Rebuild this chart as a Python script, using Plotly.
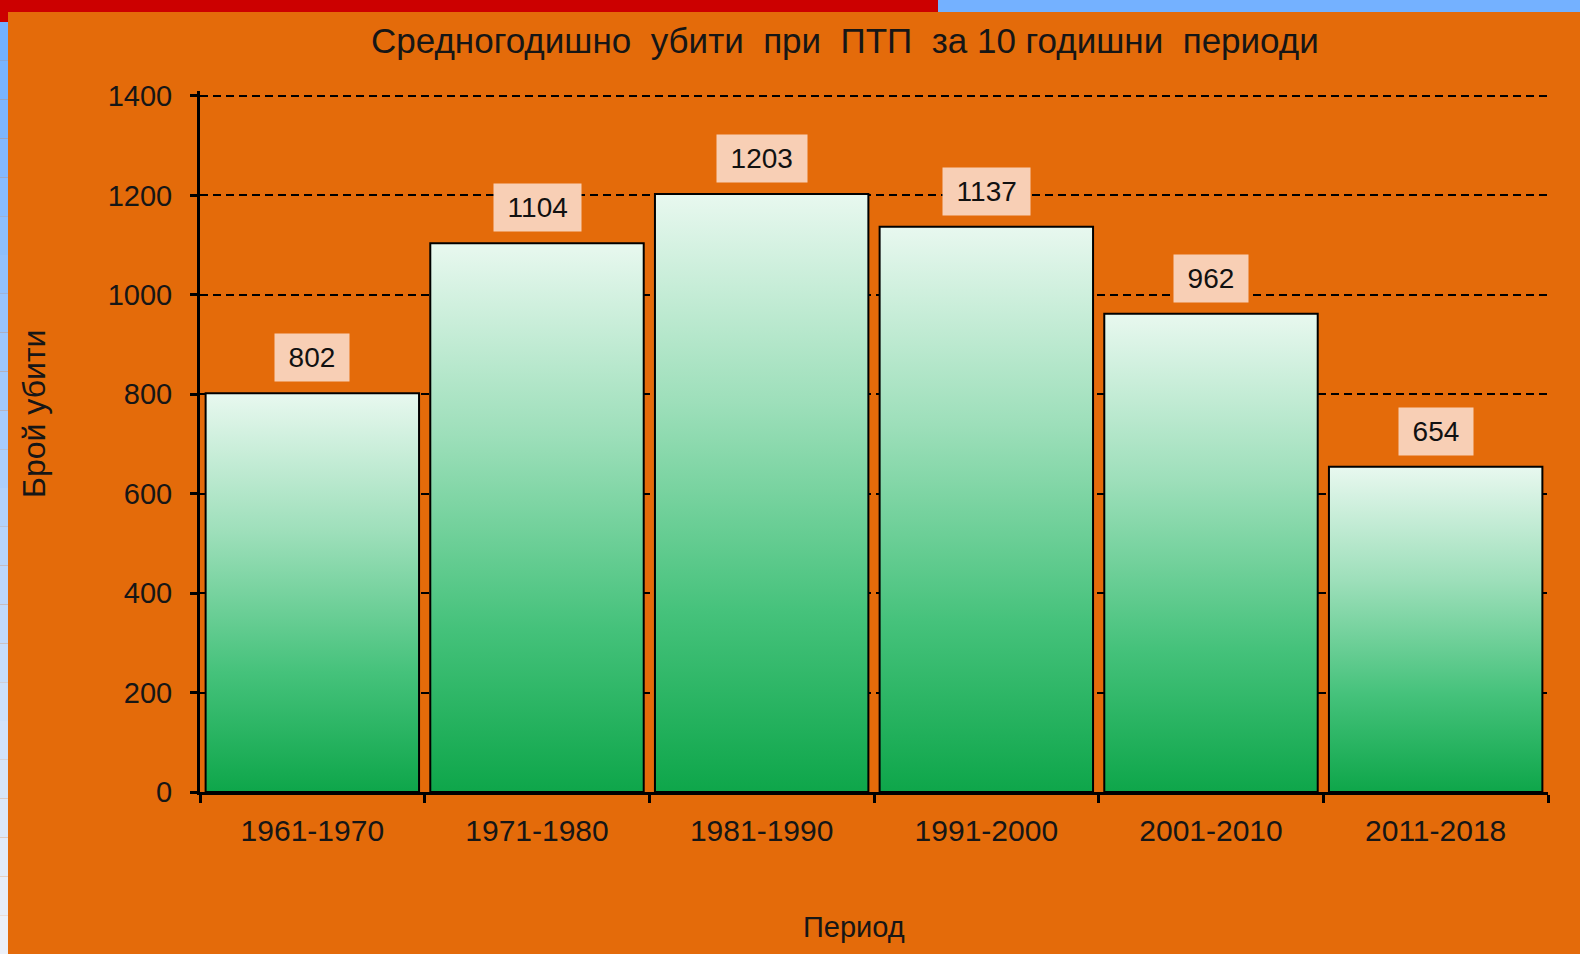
import plotly.graph_objects as go

# ---- data ----
periods = ["1961-1970", "1971-1980", "1981-1990", "1991-2000", "2001-2010", "2011-2018"]
killed = [802, 1104, 1203, 1137, 962, 654]
y_ticks = [0, 200, 400, 600, 800, 1000, 1200, 1400]
title_text = "Средногодишно\u00a0 убити\u00a0 при\u00a0 ПТП\u00a0 за 10 годишни\u00a0 периоди"
x_title = "Период"
y_title = "Брой убити"

# ---- layout geometry (pixels) ----
W, H = 1580, 954
L, R, T, B = 200, 1548, 91, 792
Y_MAX = 1410
ORANGE = "#E46B0A"
FONT = "Liberation Sans, Arial, sans-serif"
BAR_W = 0.95


def px_x(px):
    return (px - L) / (R - L)


def px_y(py):
    return (B - py) / (B - T)


idx = list(range(len(periods)))

fig = go.Figure()

# transparent bar trace carries the data
fig.add_trace(go.Bar(
    x=idx, y=killed, width=BAR_W,
    marker=dict(color="rgba(0,0,0,0)", line=dict(width=0)),
    hovertemplate="%{customdata}: %{y}<extra></extra>",
    customdata=periods, showlegend=False,
))

# gradient-filled bar bodies (derived from the same data)
scale = [[0.0, "#0ea64a"], [0.3, "#45c27b"], [0.65, "#9ddfba"], [1.0, "#e8f8ef"]]
for i, v in zip(idx, killed):
    x0, x1 = i - BAR_W / 2, i + BAR_W / 2
    fig.add_trace(go.Scatter(
        x=[x0, x1, x1, x0, x0], y=[0, 0, v, v, 0],
        mode="lines", fill="toself",
        fillgradient=dict(type="vertical", colorscale=scale),
        line=dict(color="black", width=2),
        hoverinfo="skip", showlegend=False,
    ))

# value labels
for i, v in zip(idx, killed):
    fig.add_annotation(
        x=i, y=v, text="\u2009" + str(v) + "\u2009", showarrow=False,
        yanchor="bottom", yshift=11,
        font=dict(family=FONT, size=28, color="#111111"),
        bgcolor="#F8CFB5", borderpad=8,
    )

# decorative frame strips
shapes = []
shapes.append(dict(type="rect", xref="paper", yref="paper",
                   x0=px_x(0), x1=px_x(938), y0=px_y(12), y1=px_y(0),
                   fillcolor="#CC0000", line=dict(width=0), layer="below"))
shapes.append(dict(type="rect", xref="paper", yref="paper",
                   x0=px_x(0), x1=px_x(8), y0=px_y(22), y1=px_y(12),
                   fillcolor="#CC0000", line=dict(width=0), layer="below"))
shapes.append(dict(type="rect", xref="paper", yref="paper",
                   x0=px_x(938), x1=px_x(W), y0=px_y(12), y1=px_y(0),
                   fillcolor="#74B1FF", line=dict(width=0), layer="below"))
# left strip, blue fading to pale
n_band = 24
top_c = (0x74, 0xB1, 0xFF)
bot_c = (0xEC, 0xF0, 0xF8)
span = H - 22
for k in range(n_band):
    t = k / (n_band - 1)
    c = tuple(int(round(top_c[j] + (bot_c[j] - top_c[j]) * t)) for j in range(3))
    y_top = 22 + span * k / n_band
    y_bot = 22 + span * (k + 1) / n_band
    shapes.append(dict(type="rect", xref="paper", yref="paper",
                       x0=px_x(0), x1=px_x(8), y0=px_y(y_bot), y1=px_y(y_top),
                       fillcolor="rgb(%d,%d,%d)" % c, line=dict(width=0), layer="below"))

# titles
fig.add_annotation(xref="paper", yref="paper", x=px_x(845), y=px_y(41),
                   text=title_text, showarrow=False, xanchor="center", yanchor="middle",
                   font=dict(family=FONT, size=35, color="#161616"))
fig.add_annotation(xref="paper", yref="paper", x=px_x(854), y=px_y(927),
                   text=x_title, showarrow=False, xanchor="center", yanchor="middle",
                   font=dict(family=FONT, size=29, color="#161616"))
fig.add_annotation(xref="paper", yref="paper", x=px_x(34), y=px_y(414),
                   text=y_title, showarrow=False, xanchor="center", yanchor="middle",
                   textangle=-90,
                   font=dict(family=FONT, size=32, color="#161616"))

fig.update_layout(
    width=W, height=H,
    margin=dict(l=L, r=W - R, t=T, b=H - B, pad=0),
    paper_bgcolor=ORANGE, plot_bgcolor=ORANGE,
    shapes=shapes, showlegend=False, bargap=0.05,
    font=dict(family=FONT, color="#161616"),
)
fig.update_xaxes(
    range=[-0.5, 5.5], tickmode="array", tickvals=idx, ticktext=periods,
    ticks="outside", ticklen=10, tickcolor="rgba(0,0,0,0)",
    tickfont=dict(family=FONT, size=30, color="#161616"),
    showline=True, linecolor="black", linewidth=3, showgrid=False, zeroline=False,
    minor=dict(tickmode="linear", tick0=-0.5, dtick=1, ticks="outside",
               ticklen=8, tickwidth=3, tickcolor="black", showgrid=False),
)
fig.update_yaxes(
    range=[0, Y_MAX], tickmode="array", tickvals=y_ticks,
    ticks="outside", ticklen=7, tickwidth=3, tickcolor="black",
    tickfont=dict(family=FONT, size=29, color="#161616"),
    ticklabelstandoff=12,
    showline=True, linecolor="black", linewidth=3,
    showgrid=True, gridcolor="black", gridwidth=1.5, griddash="8px,5px",
    zeroline=False,
)

fig.write_html("out.html", config={"displayModeBar": False},
               post_script="document.body.style.margin='0';document.body.style.overflow='hidden';")
